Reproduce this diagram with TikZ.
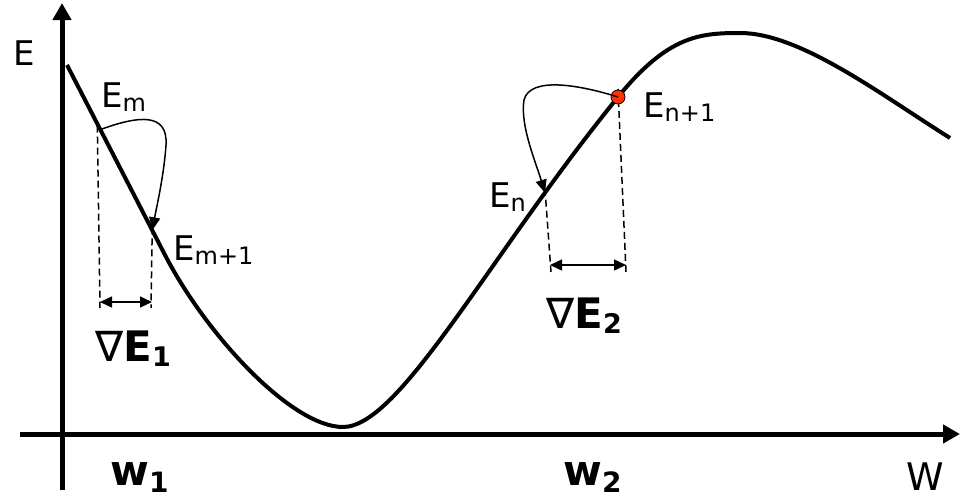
\documentclass[tikz,border=0pt]{standalone}
\usepackage{fontspec}
\setmainfont{DejaVu Sans}
\usetikzlibrary{arrows.meta}
\newcommand{\sz}[1]{\fontsize{#1}{#1}\selectfont}
\newcommand{\subs}[1]{\raisebox{-4pt}{\sz{24}#1}}
\definecolor{dotred}{RGB}{255,51,0}
\begin{document}
\begin{tikzpicture}[x=1pt,y=-1pt,
 axis/.style={line width=5pt,-{Triangle[width=18pt,length=17pt]}},
 curve/.style={line width=4pt,line join=round},
 steparrow/.style={line width=1.5pt,-{Triangle[width=11pt,length=13pt]}},
 guide/.style={line width=1.5pt,dash pattern=on 7pt off 4pt},
 span/.style={line width=1.5pt,{Triangle[width=11pt,length=12pt]}-{Triangle[width=11pt,length=12pt]}},
 lab/.style={anchor=base west,inner sep=0pt,font=\sz{34}},
 grad/.style={anchor=base west,inner sep=0pt,font=\sz{42}},
 wlab/.style={anchor=base west,inner sep=0pt}]
\useasboundingbox (0,0) rectangle (960,498);

% axes
\coordinate (xa0) at (20,434);
\coordinate (xa1) at (960,434);
\coordinate (ya0) at (62,490);
\coordinate (ya1) at (62,3);
\draw[axis] (xa0) -- (xa1);
\draw[axis] (ya0) -- (ya1);

% error curve
\draw[curve] (67,65) coordinate (c0) -- (165,255) coordinate[pos=0.34] (Em) coordinate[pos=0.87] (Em1)
  .. controls (207,336) and (292,427) .. (343,427) coordinate (cmin)
  .. controls (400,427) and (488,257) .. (618,97) coordinate[pos=0.8] (En) coordinate (En1)
  .. controls (668,35.5) and (700,33) .. (740,33) coordinate (cpeak)
  .. controls (800,33) and (880,94) .. (950,138) coordinate (cend);

% guides
\coordinate (g1) at (100,308);
\coordinate (g2) at (151,308);
\coordinate (g3) at (551,272);
\coordinate (g4) at (626,272);
\draw[guide] ([xshift=-3pt,yshift=4pt]Em) -- (g1);
\draw[guide] ([yshift=3pt]Em1) -- (g2);
\draw[guide] ([yshift=4pt]En) -- (g3);
\draw[guide] ([yshift=8pt]En1) -- (g4);

% spans
\coordinate (s1a) at (100,302);
\coordinate (s1b) at (152,302);
\coordinate (s2a) at (550,265);
\coordinate (s2b) at (626,265);
\draw[span] (s1a) -- (s1b);
\draw[span] (s2a) -- (s2b);

% point
\node[circle,fill=dotred,draw,line width=0.8pt,minimum size=14pt,inner sep=0pt] (dot) at (En1) {};

% step arrows
\draw[steparrow] (Em) .. controls (140,115) and (168,113) .. (166,145)
  .. controls (164,175) and (157,205) .. (Em1);
\draw[steparrow] (En1) .. controls (580,85) and (530,76) .. (524,100)
  .. controls (520,125) and (535,160) .. (En);

% labels
\node[lab] (lE) at (13,65) {E};
\node[lab] (lEm) at (101,107) {E\subs{m}};
\node[lab] (lEm1) at (173,260) {E\subs{m+1}};
\node[lab] (lEn) at (489,207) {E\subs{n}};
\node[lab] (lEn1) at (643,117) {E\subs{n+1}};
\node[grad] (lg1) at (95,361) {∇\textbf{E}\raisebox{-5pt}{\sz{27}\textbf{1}}};
\node[grad] (lg2) at (546,328) {∇\textbf{E}\raisebox{-5pt}{\sz{27}\textbf{2}}};
\node[wlab] (lw1) at (110,485) {\sz{42}\textbf{w}\raisebox{-7pt}{\sz{28}\textbf{1}}};
\node[wlab] (lw2) at (563,485) {\sz{42}\textbf{w}\raisebox{-7pt}{\sz{28}\textbf{2}}};
\node[lab,font=\sz{38}] (lW) at (906,490) {W};
\end{tikzpicture}
\end{document}
